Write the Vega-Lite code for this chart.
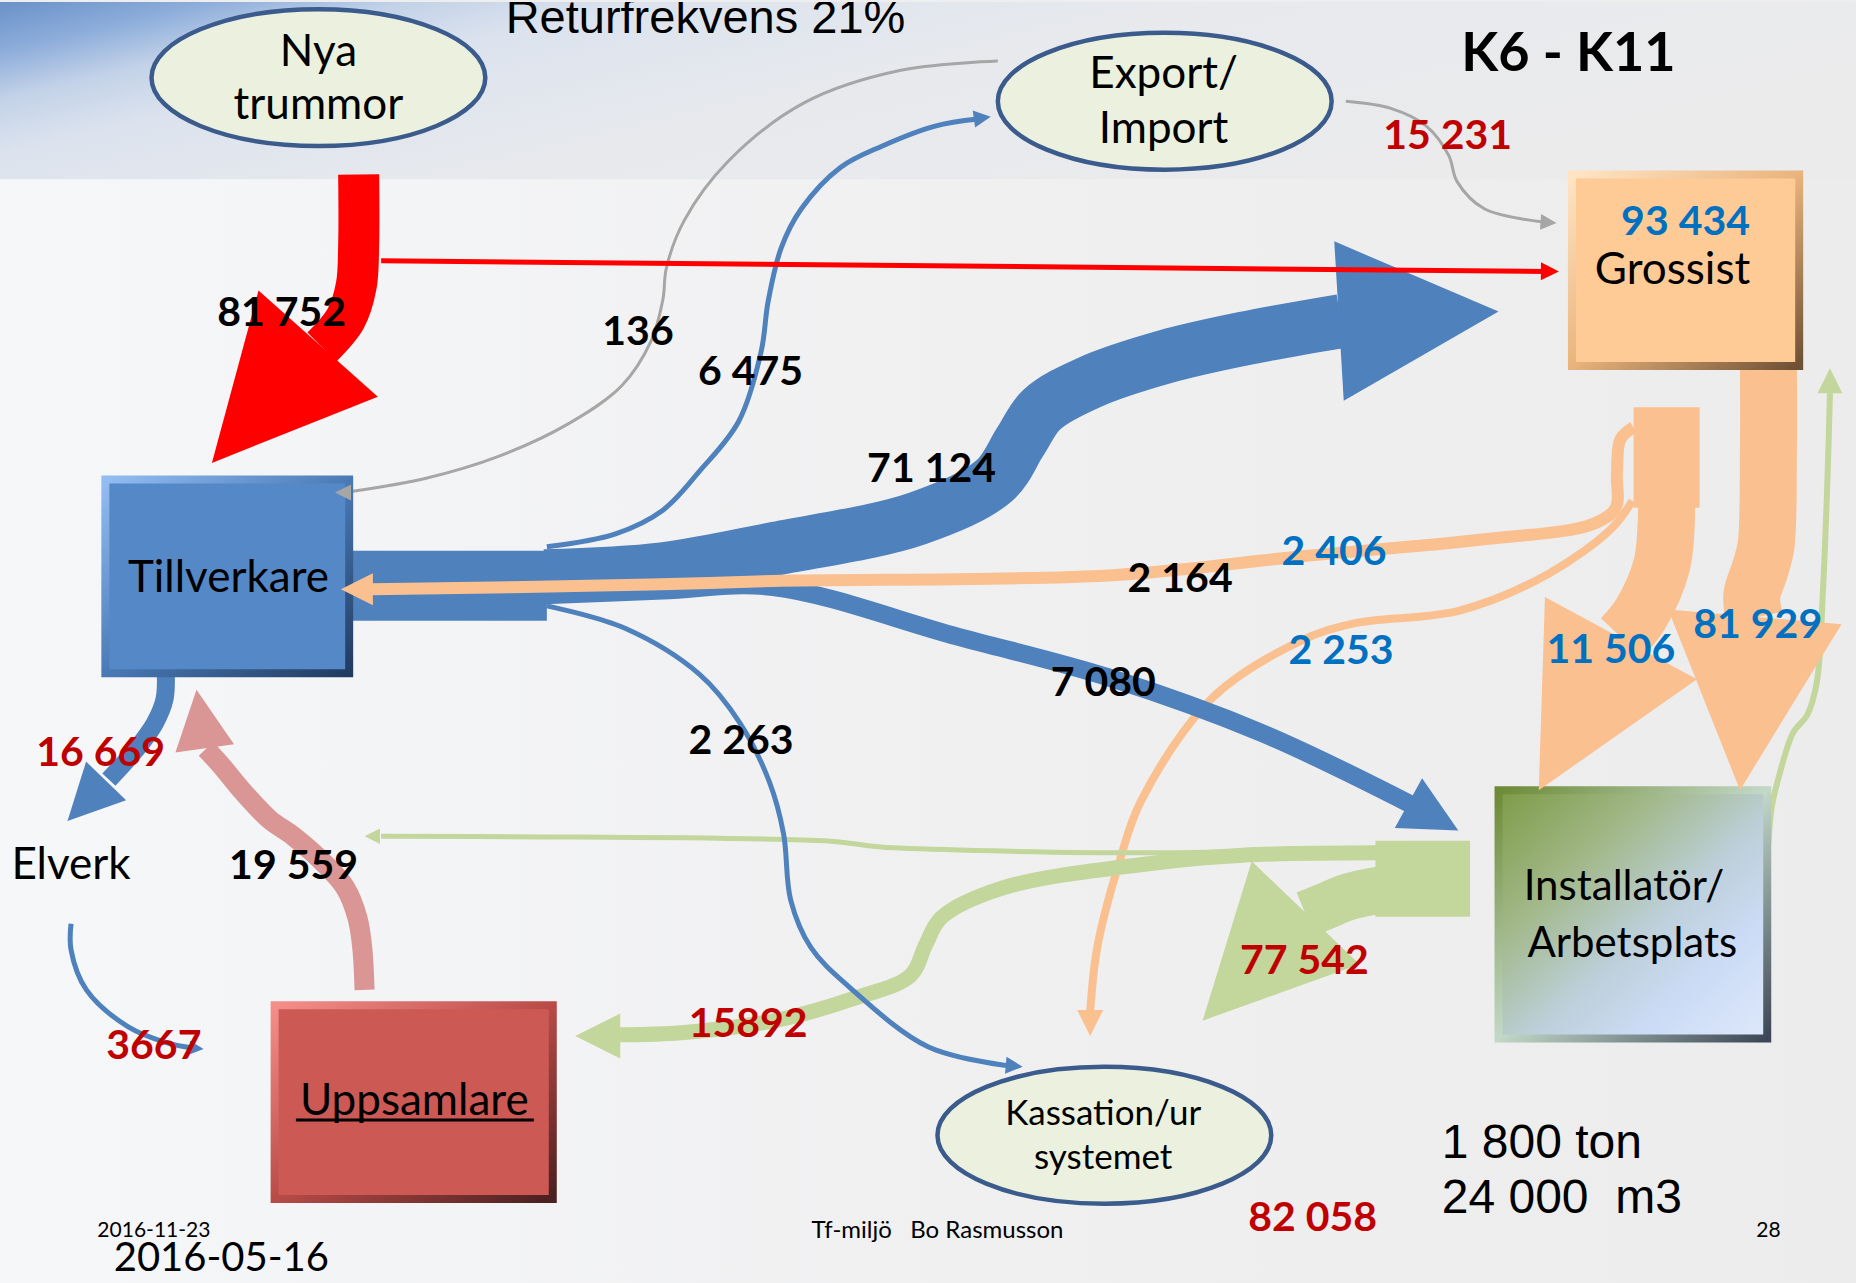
{
  "$schema": "https://vega.github.io/schema/vega-lite/v6.json",
  "width": 1856,
  "height": 1283,
  "autosize": {"type": "fit", "contains": "padding"},
  "padding": 0,
  "background": "#eeeeee",
  "config": {"view": {"stroke": null}},
  "datasets": {
    "bg": [
      {"part": "top", "x": 0, "x2": 1568, "y": 0, "y2": 150},
      {"part": "low", "x": 0, "x2": 1568, "y": 150, "y2": 1084}
    ],
    "boxes": [
      {"node": "Tillverkare", "x": 89, "x2": 295, "y": 404, "y2": 568},
      {"node": "Grossist", "x": 1328, "x2": 1520, "y": 146, "y2": 308},
      {"node": "Installatör", "x": 1266, "x2": 1493, "y": 667, "y2": 877},
      {"node": "Uppsamlare", "x": 232, "x2": 467, "y": 849, "y2": 1013}
    ],
    "ellipses": [
      {"node": "Nya trummor", "x": 269, "y": 64},
      {"node": "Export/Import", "x": 984, "y": 84},
      {"node": "Kassation/ur systemet", "x": 933, "y": 959}
    ],
    "flows": [
      {"flow": "gray_136", "from": "Export/Import", "seq": 0, "x": 843, "y": 50},
      {"flow": "gray_136", "from": "Export/Import", "seq": 1, "x": 760, "y": 58},
      {"flow": "gray_136", "from": "Export/Import", "seq": 2, "x": 680, "y": 85},
      {"flow": "gray_136", "from": "Export/Import", "seq": 3, "x": 615, "y": 135},
      {"flow": "gray_136", "from": "Export/Import", "seq": 4, "x": 578, "y": 185},
      {"flow": "gray_136", "from": "Export/Import", "seq": 5, "x": 563, "y": 225},
      {"flow": "gray_136", "from": "Export/Import", "seq": 6, "x": 560, "y": 252},
      {"flow": "gray_136", "from": "Export/Import", "seq": 7, "x": 550, "y": 287},
      {"flow": "gray_136", "from": "Export/Import", "seq": 8, "x": 525, "y": 325},
      {"flow": "gray_136", "from": "Export/Import", "seq": 9, "x": 480, "y": 357},
      {"flow": "gray_136", "from": "Export/Import", "seq": 10, "x": 420, "y": 385},
      {"flow": "gray_136", "from": "Export/Import", "seq": 11, "x": 360, "y": 403},
      {"flow": "gray_136", "from": "Export/Import", "seq": 12, "x": 298, "y": 414},
      {"flow": "gray_15231", "from": "Export/Import", "seq": 0, "x": 1137, "y": 84},
      {"flow": "gray_15231", "from": "Export/Import", "seq": 1, "x": 1175, "y": 90},
      {"flow": "gray_15231", "from": "Export/Import", "seq": 2, "x": 1205, "y": 105},
      {"flow": "gray_15231", "from": "Export/Import", "seq": 3, "x": 1224, "y": 130},
      {"flow": "gray_15231", "from": "Export/Import", "seq": 4, "x": 1231, "y": 152},
      {"flow": "gray_15231", "from": "Export/Import", "seq": 5, "x": 1254, "y": 175},
      {"flow": "gray_15231", "from": "Export/Import", "seq": 6, "x": 1302, "y": 186},
      {"flow": "blue_6475", "from": "Tillverkare", "seq": 0, "x": 462, "y": 461},
      {"flow": "blue_6475", "from": "Tillverkare", "seq": 1, "x": 520, "y": 450},
      {"flow": "blue_6475", "from": "Tillverkare", "seq": 2, "x": 560, "y": 430},
      {"flow": "blue_6475", "from": "Tillverkare", "seq": 3, "x": 591, "y": 397},
      {"flow": "blue_6475", "from": "Tillverkare", "seq": 4, "x": 624, "y": 355},
      {"flow": "blue_6475", "from": "Tillverkare", "seq": 5, "x": 643, "y": 296},
      {"flow": "blue_6475", "from": "Tillverkare", "seq": 6, "x": 649, "y": 253},
      {"flow": "blue_6475", "from": "Tillverkare", "seq": 7, "x": 660, "y": 208},
      {"flow": "blue_6475", "from": "Tillverkare", "seq": 8, "x": 677, "y": 175},
      {"flow": "blue_6475", "from": "Tillverkare", "seq": 9, "x": 710, "y": 140},
      {"flow": "blue_6475", "from": "Tillverkare", "seq": 10, "x": 745, "y": 122},
      {"flow": "blue_6475", "from": "Tillverkare", "seq": 11, "x": 790, "y": 105},
      {"flow": "blue_6475", "from": "Tillverkare", "seq": 12, "x": 826, "y": 99},
      {"flow": "blue_2263", "from": "Tillverkare", "seq": 0, "x": 462, "y": 511},
      {"flow": "blue_2263", "from": "Tillverkare", "seq": 1, "x": 528, "y": 530},
      {"flow": "blue_2263", "from": "Tillverkare", "seq": 2, "x": 591, "y": 569},
      {"flow": "blue_2263", "from": "Tillverkare", "seq": 3, "x": 625, "y": 610},
      {"flow": "blue_2263", "from": "Tillverkare", "seq": 4, "x": 650, "y": 660},
      {"flow": "blue_2263", "from": "Tillverkare", "seq": 5, "x": 662, "y": 704},
      {"flow": "blue_2263", "from": "Tillverkare", "seq": 6, "x": 668, "y": 760},
      {"flow": "blue_2263", "from": "Tillverkare", "seq": 7, "x": 685, "y": 800},
      {"flow": "blue_2263", "from": "Tillverkare", "seq": 8, "x": 718, "y": 834},
      {"flow": "blue_2263", "from": "Tillverkare", "seq": 9, "x": 784, "y": 884},
      {"flow": "blue_2263", "from": "Tillverkare", "seq": 10, "x": 850, "y": 900},
      {"flow": "orange_2253", "from": "Grossist", "seq": 0, "x": 1379, "y": 422},
      {"flow": "orange_2253", "from": "Grossist", "seq": 1, "x": 1362, "y": 445},
      {"flow": "orange_2253", "from": "Grossist", "seq": 2, "x": 1308, "y": 484},
      {"flow": "orange_2253", "from": "Grossist", "seq": 3, "x": 1233, "y": 515},
      {"flow": "orange_2253", "from": "Grossist", "seq": 4, "x": 1143, "y": 526},
      {"flow": "orange_2253", "from": "Grossist", "seq": 5, "x": 1098, "y": 541},
      {"flow": "orange_2253", "from": "Grossist", "seq": 6, "x": 1024, "y": 589},
      {"flow": "orange_2253", "from": "Grossist", "seq": 7, "x": 964, "y": 676},
      {"flow": "orange_2253", "from": "Grossist", "seq": 8, "x": 945, "y": 730},
      {"flow": "orange_2253", "from": "Grossist", "seq": 9, "x": 927, "y": 800},
      {"flow": "orange_2253", "from": "Grossist", "seq": 10, "x": 921, "y": 855},
      {"flow": "green_thin", "from": "Installatör", "seq": 0, "x": 1165, "y": 716},
      {"flow": "green_thin", "from": "Installatör", "seq": 1, "x": 972, "y": 720},
      {"flow": "green_thin", "from": "Installatör", "seq": 2, "x": 760, "y": 716},
      {"flow": "green_thin", "from": "Installatör", "seq": 3, "x": 734, "y": 714},
      {"flow": "green_thin", "from": "Installatör", "seq": 4, "x": 700, "y": 710},
      {"flow": "green_thin", "from": "Installatör", "seq": 5, "x": 322, "y": 706},
      {"flow": "green_up", "from": "Installatör", "seq": 0, "x": 1494, "y": 712},
      {"flow": "green_up", "from": "Installatör", "seq": 1, "x": 1497, "y": 680},
      {"flow": "green_up", "from": "Installatör", "seq": 2, "x": 1503, "y": 655},
      {"flow": "green_up", "from": "Installatör", "seq": 3, "x": 1515, "y": 618},
      {"flow": "green_up", "from": "Installatör", "seq": 4, "x": 1527, "y": 603},
      {"flow": "green_up", "from": "Installatör", "seq": 5, "x": 1535, "y": 575},
      {"flow": "green_up", "from": "Installatör", "seq": 6, "x": 1540, "y": 500},
      {"flow": "green_up", "from": "Installatör", "seq": 7, "x": 1544, "y": 400},
      {"flow": "green_up", "from": "Installatör", "seq": 8, "x": 1546, "y": 331},
      {"flow": "blue_3667", "from": "Elverk", "seq": 0, "x": 60, "y": 780},
      {"flow": "blue_3667", "from": "Elverk", "seq": 1, "x": 60, "y": 802},
      {"flow": "blue_3667", "from": "Elverk", "seq": 2, "x": 73, "y": 836},
      {"flow": "blue_3667", "from": "Elverk", "seq": 3, "x": 108, "y": 867},
      {"flow": "blue_3667", "from": "Elverk", "seq": 4, "x": 142, "y": 881},
      {"flow": "blue_3667", "from": "Elverk", "seq": 5, "x": 162, "y": 885},
      {"flow": "blue_bundle", "from": "Tillverkare", "seq": 0, "x": 295, "y": 494},
      {"flow": "blue_bundle", "from": "Tillverkare", "seq": 1, "x": 462, "y": 494},
      {"flow": "blue_71124", "from": "Tillverkare", "seq": 0, "x": 460, "y": 486},
      {"flow": "blue_71124", "from": "Tillverkare", "seq": 1, "x": 560, "y": 480},
      {"flow": "blue_71124", "from": "Tillverkare", "seq": 2, "x": 653, "y": 463},
      {"flow": "blue_71124", "from": "Tillverkare", "seq": 3, "x": 775, "y": 437},
      {"flow": "blue_71124", "from": "Tillverkare", "seq": 4, "x": 840, "y": 405},
      {"flow": "blue_71124", "from": "Tillverkare", "seq": 5, "x": 862, "y": 372},
      {"flow": "blue_71124", "from": "Tillverkare", "seq": 6, "x": 880, "y": 345},
      {"flow": "blue_71124", "from": "Tillverkare", "seq": 7, "x": 920, "y": 322},
      {"flow": "blue_71124", "from": "Tillverkare", "seq": 8, "x": 985, "y": 300},
      {"flow": "blue_71124", "from": "Tillverkare", "seq": 9, "x": 1050, "y": 285},
      {"flow": "blue_71124", "from": "Tillverkare", "seq": 10, "x": 1133, "y": 270},
      {"flow": "blue_7080", "from": "Tillverkare", "seq": 0, "x": 460, "y": 502},
      {"flow": "blue_7080", "from": "Tillverkare", "seq": 1, "x": 560, "y": 498},
      {"flow": "blue_7080", "from": "Tillverkare", "seq": 2, "x": 653, "y": 495},
      {"flow": "blue_7080", "from": "Tillverkare", "seq": 3, "x": 809, "y": 537},
      {"flow": "blue_7080", "from": "Tillverkare", "seq": 4, "x": 938, "y": 572},
      {"flow": "blue_7080", "from": "Tillverkare", "seq": 5, "x": 1067, "y": 619},
      {"flow": "blue_7080", "from": "Tillverkare", "seq": 6, "x": 1192, "y": 679},
      {"flow": "red_big", "from": "Nya trummor", "seq": 0, "x": 303, "y": 146},
      {"flow": "red_big", "from": "Nya trummor", "seq": 1, "x": 303, "y": 205},
      {"flow": "red_big", "from": "Nya trummor", "seq": 2, "x": 301, "y": 240},
      {"flow": "red_big", "from": "Nya trummor", "seq": 3, "x": 292, "y": 268},
      {"flow": "red_big", "from": "Nya trummor", "seq": 4, "x": 272, "y": 292},
      {"flow": "pink_19559", "from": "Uppsamlare", "seq": 0, "x": 308, "y": 836},
      {"flow": "pink_19559", "from": "Uppsamlare", "seq": 1, "x": 306, "y": 800},
      {"flow": "pink_19559", "from": "Uppsamlare", "seq": 2, "x": 302, "y": 775},
      {"flow": "pink_19559", "from": "Uppsamlare", "seq": 3, "x": 292, "y": 750},
      {"flow": "pink_19559", "from": "Uppsamlare", "seq": 4, "x": 275, "y": 730},
      {"flow": "pink_19559", "from": "Uppsamlare", "seq": 5, "x": 248, "y": 706},
      {"flow": "pink_19559", "from": "Uppsamlare", "seq": 6, "x": 228, "y": 692},
      {"flow": "pink_19559", "from": "Uppsamlare", "seq": 7, "x": 205, "y": 668},
      {"flow": "pink_19559", "from": "Uppsamlare", "seq": 8, "x": 186, "y": 645},
      {"flow": "pink_19559", "from": "Uppsamlare", "seq": 9, "x": 174, "y": 632},
      {"flow": "blue_16669", "from": "Tillverkare", "seq": 0, "x": 140, "y": 566},
      {"flow": "blue_16669", "from": "Tillverkare", "seq": 1, "x": 139, "y": 590},
      {"flow": "blue_16669", "from": "Tillverkare", "seq": 2, "x": 131, "y": 610},
      {"flow": "blue_16669", "from": "Tillverkare", "seq": 3, "x": 117, "y": 630},
      {"flow": "blue_16669", "from": "Tillverkare", "seq": 4, "x": 92, "y": 658},
      {"flow": "orange_box", "from": "Grossist", "seq": 0, "x": 1408, "y": 343},
      {"flow": "orange_box", "from": "Grossist", "seq": 1, "x": 1408, "y": 428},
      {"flow": "orange_11506", "from": "Grossist", "seq": 0, "x": 1408, "y": 426},
      {"flow": "orange_11506", "from": "Grossist", "seq": 1, "x": 1404, "y": 476},
      {"flow": "orange_11506", "from": "Grossist", "seq": 2, "x": 1386, "y": 518},
      {"flow": "orange_11506", "from": "Grossist", "seq": 3, "x": 1370, "y": 538},
      {"flow": "orange_81929", "from": "Grossist", "seq": 0, "x": 1494, "y": 308},
      {"flow": "orange_81929", "from": "Grossist", "seq": 1, "x": 1494, "y": 380},
      {"flow": "orange_81929", "from": "Grossist", "seq": 2, "x": 1492, "y": 460},
      {"flow": "orange_81929", "from": "Grossist", "seq": 3, "x": 1487, "y": 480},
      {"flow": "orange_81929", "from": "Grossist", "seq": 4, "x": 1480, "y": 502},
      {"flow": "orange_81929", "from": "Grossist", "seq": 5, "x": 1482, "y": 521},
      {"flow": "green_box", "from": "Installatör", "seq": 0, "x": 1162, "y": 742},
      {"flow": "green_box", "from": "Installatör", "seq": 1, "x": 1242, "y": 742},
      {"flow": "green_77542", "from": "Installatör", "seq": 0, "x": 1175, "y": 750},
      {"flow": "green_77542", "from": "Installatör", "seq": 1, "x": 1140, "y": 757},
      {"flow": "green_77542", "from": "Installatör", "seq": 2, "x": 1120, "y": 765},
      {"flow": "green_77542", "from": "Installatör", "seq": 3, "x": 1103, "y": 772},
      {"flow": "green_15892", "from": "Installatör", "seq": 0, "x": 1165, "y": 720},
      {"flow": "green_15892", "from": "Installatör", "seq": 1, "x": 1050, "y": 722},
      {"flow": "green_15892", "from": "Installatör", "seq": 2, "x": 972, "y": 729},
      {"flow": "green_15892", "from": "Installatör", "seq": 3, "x": 846, "y": 750},
      {"flow": "green_15892", "from": "Installatör", "seq": 4, "x": 795, "y": 775},
      {"flow": "green_15892", "from": "Installatör", "seq": 5, "x": 782, "y": 798},
      {"flow": "green_15892", "from": "Installatör", "seq": 6, "x": 769, "y": 824},
      {"flow": "green_15892", "from": "Installatör", "seq": 7, "x": 722, "y": 843},
      {"flow": "green_15892", "from": "Installatör", "seq": 8, "x": 659, "y": 861},
      {"flow": "green_15892", "from": "Installatör", "seq": 9, "x": 578, "y": 872},
      {"flow": "green_15892", "from": "Installatör", "seq": 10, "x": 522, "y": 874},
      {"flow": "orange_2164", "from": "Grossist", "seq": 0, "x": 1380, "y": 360},
      {"flow": "orange_2164", "from": "Grossist", "seq": 1, "x": 1369, "y": 370},
      {"flow": "orange_2164", "from": "Grossist", "seq": 2, "x": 1366, "y": 400},
      {"flow": "orange_2164", "from": "Grossist", "seq": 3, "x": 1365, "y": 428},
      {"flow": "orange_2164", "from": "Grossist", "seq": 4, "x": 1345, "y": 442},
      {"flow": "orange_2164", "from": "Grossist", "seq": 5, "x": 1250, "y": 455},
      {"flow": "orange_2164", "from": "Grossist", "seq": 6, "x": 1100, "y": 469},
      {"flow": "orange_2164", "from": "Grossist", "seq": 7, "x": 940, "y": 485},
      {"flow": "orange_2164", "from": "Grossist", "seq": 8, "x": 653, "y": 490},
      {"flow": "orange_2164", "from": "Grossist", "seq": 9, "x": 550, "y": 493},
      {"flow": "orange_2164", "from": "Grossist", "seq": 10, "x": 314, "y": 497},
      {"flow": "red_thin", "from": "Nya trummor", "seq": 0, "x": 322, "y": 219},
      {"flow": "red_thin", "from": "Nya trummor", "seq": 1, "x": 1305, "y": 228}
    ],
    "heads": [
      {"flow": "red_big", "from": "Nya trummor", "x": 179, "y": 390, "dir": 131.7},
      {"flow": "red_thin", "from": "Nya trummor", "x": 1317, "y": 228, "dir": 0.5},
      {"flow": "gray_136", "from": "Export/Import", "x": 283, "y": 415, "dir": 180},
      {"flow": "gray_15231", "from": "Export/Import", "x": 1315, "y": 187, "dir": 4},
      {"flow": "blue_6475", "from": "Tillverkare", "x": 837, "y": 97, "dir": -8},
      {"flow": "blue_71124", "from": "Tillverkare", "x": 1266, "y": 262, "dir": -3.4},
      {"flow": "blue_7080", "from": "Tillverkare", "x": 1232, "y": 701, "dir": 28.7},
      {"flow": "blue_2263", "from": "Tillverkare", "x": 864, "y": 901, "dir": 5},
      {"flow": "orange_11506", "from": "Grossist", "x": 1300, "y": 667, "dir": 118.4},
      {"flow": "orange_81929", "from": "Grossist", "x": 1470, "y": 667, "dir": 94.9},
      {"flow": "orange_2164", "from": "Grossist", "x": 288, "y": 497, "dir": 180},
      {"flow": "orange_2253", "from": "Grossist", "x": 921, "y": 875, "dir": 90},
      {"flow": "green_up", "from": "Installatör", "x": 1546, "y": 310, "dir": -90},
      {"flow": "green_77542", "from": "Installatör", "x": 1016, "y": 862, "dir": 133.7},
      {"flow": "green_15892", "from": "Installatör", "x": 486, "y": 875, "dir": 180},
      {"flow": "green_thin", "from": "Installatör", "x": 308, "y": 706, "dir": 180},
      {"flow": "pink_19559", "from": "Uppsamlare", "x": 166, "y": 582, "dir": -98},
      {"flow": "blue_16669", "from": "Tillverkare", "x": 57, "y": 693, "dir": 134},
      {"flow": "blue_3667", "from": "Elverk", "x": 172, "y": 886, "dir": 5}
    ],
    "labels": [
      {"text": "Nya", "x": 269, "y": 43, "role": "node"},
      {"text": "trummor", "x": 269, "y": 88, "role": "node"},
      {"text": "Export/", "x": 983, "y": 62, "role": "node"},
      {"text": "Import", "x": 983, "y": 108, "role": "node"},
      {"text": "Kassation/ur", "x": 932, "y": 941, "role": "node_s"},
      {"text": "systemet", "x": 932, "y": 978, "role": "node_s"},
      {"text": "Tillverkare", "x": 193, "y": 488, "role": "node"},
      {"text": "Grossist", "x": 1413, "y": 228, "role": "node"},
      {"text": "Installatör/", "x": 1372, "y": 749, "role": "node_m"},
      {"text": "Arbetsplats", "x": 1379, "y": 797, "role": "node_m"},
      {"text": "Uppsamlare", "x": 350, "y": 931, "role": "node"},
      {"text": "Elverk", "x": 60, "y": 731, "role": "node"},
      {"text": "2016-11-23", "x": 130, "y": 1040, "role": "foot_s"},
      {"text": "2016-05-16", "x": 187, "y": 1064, "role": "foot_l"},
      {"text": "Tf-miljö\u00a0\u00a0\u00a0Bo Rasmusson", "x": 792, "y": 1040, "role": "foot_m"},
      {"text": "28", "x": 1494, "y": 1040, "role": "foot_s"}
    ],
    "values": [
      {"text": "81 752", "x": 238, "y": 264, "kategori": "a"},
      {"text": "136", "x": 539, "y": 280, "kategori": "a"},
      {"text": "6 475", "x": 634, "y": 314, "kategori": "a"},
      {"text": "71 124", "x": 787, "y": 396, "kategori": "a"},
      {"text": "2 164", "x": 997, "y": 489, "kategori": "a"},
      {"text": "2 406", "x": 1127, "y": 466, "kategori": "c"},
      {"text": "2 253", "x": 1133, "y": 550, "kategori": "c"},
      {"text": "7 080", "x": 932, "y": 577, "kategori": "a"},
      {"text": "2 263", "x": 626, "y": 626, "kategori": "a"},
      {"text": "11 506", "x": 1361, "y": 549, "kategori": "c"},
      {"text": "81 929", "x": 1485, "y": 528, "kategori": "c"},
      {"text": "93 434", "x": 1424, "y": 187, "kategori": "c"},
      {"text": "15 231", "x": 1223, "y": 114, "kategori": "b"},
      {"text": "16 669", "x": 85, "y": 636, "kategori": "b"},
      {"text": "19 559", "x": 248, "y": 732, "kategori": "a"},
      {"text": "3667", "x": 130, "y": 884, "kategori": "b"},
      {"text": "15892", "x": 632, "y": 866, "kategori": "b"},
      {"text": "77 542", "x": 1102, "y": 812, "kategori": "b"},
      {"text": "82 058", "x": 1109, "y": 1030, "kategori": "b"}
    ]
  },
  "layer": [
    {
      "data": {"name": "bg"},
      "transform": [{"filter": "datum.part === 'top'"}],
      "mark": {"type": "rect", "fill": {"gradient": "linear", "x1": 0, "y1": 0, "x2": 1, "y2": 0.4, "stops": [
        {"offset": 0, "color": "#6a91c8"},
        {"offset": 0.1, "color": "#8eaedb"},
        {"offset": 0.19, "color": "#c3d2e8"},
        {"offset": 0.3, "color": "#dce3ee"},
        {"offset": 0.55, "color": "#e7e9ed"},
        {"offset": 1, "color": "#ebebec"}]}},
      "encoding": {
        "x": {"field": "x", "type": "quantitative", "scale": {"domain": [0, 1568], "nice": false, "zero": false}, "axis": null},
        "x2": {"field": "x2"},
        "y": {"field": "y", "type": "quantitative", "scale": {"domain": [0, 1084], "nice": false, "zero": false, "reverse": true}, "axis": null},
        "y2": {"field": "y2"}
      }
    },
    {
      "data": {"name": "bg"},
      "transform": [{"filter": "datum.part === 'low'"}],
      "mark": {"type": "rect", "fill": {"gradient": "linear", "x1": 0, "y1": 0, "x2": 1, "y2": 0, "stops": [
        {"offset": 0, "color": "#f6f7f9"},
        {"offset": 0.5, "color": "#f0f0f1"},
        {"offset": 1, "color": "#ececec"}]}},
      "encoding": {
        "x": {"field": "x", "type": "quantitative", "scale": {"domain": [0, 1568], "nice": false, "zero": false}, "axis": null},
        "x2": {"field": "x2"},
        "y": {"field": "y", "type": "quantitative", "scale": {"domain": [0, 1084], "nice": false, "zero": false, "reverse": true}, "axis": null},
        "y2": {"field": "y2"}
      }
    },
    {
      "data": {"name": "flows"},
      "transform": [{"filter": {"field": "flow", "oneOf": ["gray_136", "gray_15231", "blue_6475", "orange_2253", "green_thin", "green_up", "blue_3667"]}}],
      "mark": {"type": "line", "interpolate": "catmull-rom", "strokeCap": "butt", "strokeJoin": "round"},
      "encoding": {
        "x": {"field": "x", "type": "quantitative", "scale": {"domain": [0, 1568], "nice": false, "zero": false}, "axis": null},
        "y": {"field": "y", "type": "quantitative", "scale": {"domain": [0, 1084], "nice": false, "zero": false, "reverse": true}, "axis": null},
        "detail": {"field": "flow"},
        "order": {"field": "seq", "type": "quantitative"},
        "color": {"field": "from", "type": "nominal", "legend": null, "scale": {"domain": ["Nya trummor", "Tillverkare", "Grossist", "Installatör", "Uppsamlare", "Export/Import", "Elverk"], "range": ["#ff0000", "#4f81bd", "#fac090", "#c3d69b", "#d99694", "#a6a6a6", "#4f81bd"]}},
        "strokeWidth": {"field": "flow", "type": "nominal", "legend": null, "scale": {"type": "ordinal",
          "domain": ["gray_136", "gray_15231", "blue_6475", "blue_2263", "orange_2253", "green_thin", "green_up", "blue_3667", "blue_bundle", "blue_71124", "blue_7080", "red_big", "pink_19559", "blue_16669", "orange_box", "orange_11506", "orange_81929", "green_box", "green_77542", "green_15892", "orange_2164", "red_thin"],
          "range": [3, 3, 5, 5, 8, 5, 6, 5, 70, 54, 18, 41, 20, 18, 66, 57, 57, 76, 47, 15, 12, 5]}}
      }
    },
    {
      "data": {"name": "flows"},
      "transform": [{"filter": {"field": "flow", "oneOf": ["blue_bundle", "blue_71124", "blue_7080", "red_big", "pink_19559", "blue_16669", "orange_box", "orange_11506", "orange_81929", "green_box", "green_77542", "green_15892"]}}],
      "mark": {"type": "line", "interpolate": "catmull-rom", "strokeCap": "butt", "strokeJoin": "round"},
      "encoding": {
        "x": {"field": "x", "type": "quantitative", "scale": {"domain": [0, 1568], "nice": false, "zero": false}, "axis": null},
        "y": {"field": "y", "type": "quantitative", "scale": {"domain": [0, 1084], "nice": false, "zero": false, "reverse": true}, "axis": null},
        "detail": {"field": "flow"},
        "order": {"field": "seq", "type": "quantitative"},
        "color": {"field": "from", "type": "nominal", "legend": null, "scale": {"domain": ["Nya trummor", "Tillverkare", "Grossist", "Installatör", "Uppsamlare", "Export/Import", "Elverk"], "range": ["#ff0000", "#4f81bd", "#fac090", "#c3d69b", "#d99694", "#a6a6a6", "#4f81bd"]}},
        "strokeWidth": {"field": "flow", "type": "nominal", "legend": null, "scale": {"type": "ordinal",
          "domain": ["gray_136", "gray_15231", "blue_6475", "blue_2263", "orange_2253", "green_thin", "green_up", "blue_3667", "blue_bundle", "blue_71124", "blue_7080", "red_big", "pink_19559", "blue_16669", "orange_box", "orange_11506", "orange_81929", "green_box", "green_77542", "green_15892", "orange_2164", "red_thin"],
          "range": [3, 3, 5, 5, 8, 5, 6, 5, 70, 54, 18, 41, 20, 18, 66, 57, 57, 76, 47, 15, 12, 5]}}
      }
    },
    {
      "data": {"name": "ellipses"},
      "mark": {"type": "point", "shape": "M-1,0C-1,-0.226,-0.552,-0.41,0,-0.41C0.552,-0.41,1,-0.226,1,0C1,0.226,0.552,0.41,0,0.41C-0.552,0.41,-1,0.226,-1,0Z", "filled": true, "fill": "#ebf1de", "stroke": "#3b5b8c", "strokeWidth": 4.5, "size": 111420, "opacity": 1},
      "encoding": {
        "x": {"field": "x", "type": "quantitative", "scale": {"domain": [0, 1568], "nice": false, "zero": false}, "axis": null},
        "y": {"field": "y", "type": "quantitative", "scale": {"domain": [0, 1084], "nice": false, "zero": false, "reverse": true}, "axis": null}
      }
    },
    {
      "data": {"name": "boxes"},
      "transform": [{"filter": "datum.node === 'Tillverkare'"}],
      "mark": {"type": "rect", "fill": "#5588c7", "strokeWidth": 8,
        "stroke": {"gradient": "linear", "x1": 0, "y1": 0, "x2": 1, "y2": 1, "stops": [{"offset": 0, "color": "#93bdf2"}, {"offset": 0.5, "color": "#4a7ab6"}, {"offset": 1, "color": "#213b60"}]}},
      "encoding": {
        "x": {"field": "x", "type": "quantitative", "scale": {"domain": [0, 1568], "nice": false, "zero": false}, "axis": null},
        "x2": {"field": "x2"},
        "y": {"field": "y", "type": "quantitative", "scale": {"domain": [0, 1084], "nice": false, "zero": false, "reverse": true}, "axis": null},
        "y2": {"field": "y2"}
      }
    },
    {
      "data": {"name": "boxes"},
      "transform": [{"filter": "datum.node === 'Grossist'"}],
      "mark": {"type": "rect", "fill": "#fecb97", "strokeWidth": 8,
        "stroke": {"gradient": "linear", "x1": 0, "y1": 0, "x2": 1, "y2": 1, "stops": [{"offset": 0, "color": "#ffe4c4"}, {"offset": 0.5, "color": "#e9b47c"}, {"offset": 1, "color": "#6e5034"}]}},
      "encoding": {
        "x": {"field": "x", "type": "quantitative", "scale": {"domain": [0, 1568], "nice": false, "zero": false}, "axis": null},
        "x2": {"field": "x2"},
        "y": {"field": "y", "type": "quantitative", "scale": {"domain": [0, 1084], "nice": false, "zero": false, "reverse": true}, "axis": null},
        "y2": {"field": "y2"}
      }
    },
    {
      "data": {"name": "boxes"},
      "transform": [{"filter": "datum.node === 'Installatör'"}],
      "mark": {"type": "rect", "strokeWidth": 8,
        "fill": {"gradient": "linear", "x1": 0, "y1": 0, "x2": 1, "y2": 1, "stops": [{"offset": 0, "color": "#7d9b46"}, {"offset": 0.3, "color": "#a2b889"}, {"offset": 0.55, "color": "#bccfd8"}, {"offset": 0.75, "color": "#cbdbf5"}, {"offset": 1, "color": "#dee8fb"}]},
        "stroke": {"gradient": "linear", "x1": 0, "y1": 0, "x2": 1, "y2": 1, "stops": [{"offset": 0, "color": "#6d8a35"}, {"offset": 0.5, "color": "#c3d8c8"}, {"offset": 1, "color": "#3c4656"}]}},
      "encoding": {
        "x": {"field": "x", "type": "quantitative", "scale": {"domain": [0, 1568], "nice": false, "zero": false}, "axis": null},
        "x2": {"field": "x2"},
        "y": {"field": "y", "type": "quantitative", "scale": {"domain": [0, 1084], "nice": false, "zero": false, "reverse": true}, "axis": null},
        "y2": {"field": "y2"}
      }
    },
    {
      "data": {"name": "boxes"},
      "transform": [{"filter": "datum.node === 'Uppsamlare'"}],
      "mark": {"type": "rect", "fill": "#cd5955", "strokeWidth": 8,
        "stroke": {"gradient": "linear", "x1": 0, "y1": 0, "x2": 1, "y2": 1, "stops": [{"offset": 0, "color": "#f58e8a"}, {"offset": 0.5, "color": "#b94b47"}, {"offset": 1, "color": "#4a2020"}]}},
      "encoding": {
        "x": {"field": "x", "type": "quantitative", "scale": {"domain": [0, 1568], "nice": false, "zero": false}, "axis": null},
        "x2": {"field": "x2"},
        "y": {"field": "y", "type": "quantitative", "scale": {"domain": [0, 1084], "nice": false, "zero": false, "reverse": true}, "axis": null},
        "y2": {"field": "y2"}
      }
    },
    {
      "data": {"name": "heads"},
      "mark": {"type": "point", "shape": "M0,0L-2,-1L-2,1Z", "filled": true, "opacity": 1, "strokeWidth": 0},
      "encoding": {
        "x": {"field": "x", "type": "quantitative", "scale": {"domain": [0, 1568], "nice": false, "zero": false}, "axis": null},
        "y": {"field": "y", "type": "quantitative", "scale": {"domain": [0, 1084], "nice": false, "zero": false, "reverse": true}, "axis": null},
        "angle": {"field": "dir", "type": "quantitative", "scale": null},
        "color": {"field": "from", "type": "nominal", "legend": null, "scale": {"domain": ["Nya trummor", "Tillverkare", "Grossist", "Installatör", "Uppsamlare", "Export/Import", "Elverk"], "range": ["#ff0000", "#4f81bd", "#fac090", "#c3d69b", "#d99694", "#a6a6a6", "#4f81bd"]}},
        "size": {"field": "flow", "type": "nominal", "legend": null, "scale": {"type": "ordinal",
          "domain": ["red_big", "red_thin", "gray_136", "gray_15231", "blue_6475", "blue_71124", "blue_7080", "blue_2263", "orange_11506", "orange_81929", "orange_2164", "orange_2253", "green_up", "green_77542", "green_15892", "green_thin", "pink_19559", "blue_16669", "blue_3667"],
          "range": [25540, 324, 256, 256, 289, 25540, 3228, 289, 29860, 30276, 1021, 678, 618, 22245, 2023, 237, 3503, 3095, 202]}}
      }
    },
    {
      "data": {"name": "flows"},
      "transform": [{"filter": {"field": "flow", "oneOf": ["blue_2263", "orange_2164", "red_thin"]}}],
      "mark": {"type": "line", "interpolate": "catmull-rom", "strokeCap": "butt", "strokeJoin": "round"},
      "encoding": {
        "x": {"field": "x", "type": "quantitative", "scale": {"domain": [0, 1568], "nice": false, "zero": false}, "axis": null},
        "y": {"field": "y", "type": "quantitative", "scale": {"domain": [0, 1084], "nice": false, "zero": false, "reverse": true}, "axis": null},
        "detail": {"field": "flow"},
        "order": {"field": "seq", "type": "quantitative"},
        "color": {"field": "from", "type": "nominal", "legend": null, "scale": {"domain": ["Nya trummor", "Tillverkare", "Grossist", "Installatör", "Uppsamlare", "Export/Import", "Elverk"], "range": ["#ff0000", "#4f81bd", "#fac090", "#c3d69b", "#d99694", "#a6a6a6", "#4f81bd"]}},
        "strokeWidth": {"field": "flow", "type": "nominal", "legend": null, "scale": {"type": "ordinal",
          "domain": ["gray_136", "gray_15231", "blue_6475", "blue_2263", "orange_2253", "green_thin", "green_up", "blue_3667", "blue_bundle", "blue_71124", "blue_7080", "red_big", "pink_19559", "blue_16669", "orange_box", "orange_11506", "orange_81929", "green_box", "green_77542", "green_15892", "orange_2164", "red_thin"],
          "range": [3, 3, 5, 5, 8, 5, 6, 5, 70, 54, 18, 41, 20, 18, 66, 57, 57, 76, 47, 15, 12, 5]}}
      }
    },
    {
      "data": {"values": [{"word": "Uppsamlare", "x": 250, "x2": 451, "y": 946}]},
      "mark": {"type": "rule", "color": "#000000", "strokeWidth": 3},
      "encoding": {
        "x": {"field": "x", "type": "quantitative", "scale": {"domain": [0, 1568], "nice": false, "zero": false}, "axis": null},
        "x2": {"field": "x2"},
        "y": {"field": "y", "type": "quantitative", "scale": {"domain": [0, 1084], "nice": false, "zero": false, "reverse": true}, "axis": null}
      }
    },
    {
      "data": {"name": "labels"},
      "mark": {"type": "text", "font": "Lato", "align": "center", "baseline": "middle", "color": "#000000"},
      "encoding": {
        "x": {"field": "x", "type": "quantitative", "scale": {"domain": [0, 1568], "nice": false, "zero": false}, "axis": null},
        "y": {"field": "y", "type": "quantitative", "scale": {"domain": [0, 1084], "nice": false, "zero": false, "reverse": true}, "axis": null},
        "text": {"field": "text"},
        "size": {"field": "role", "type": "nominal", "legend": null, "scale": {"type": "ordinal", "domain": ["node", "node_m", "node_s", "foot_s", "foot_m", "foot_l"], "range": [44, 42, 35, 21, 24, 40]}}
      }
    },
    {
      "data": {"name": "values"},
      "mark": {"type": "text", "font": "Lato", "fontWeight": "bold", "fontSize": 41, "align": "center", "baseline": "middle"},
      "encoding": {
        "x": {"field": "x", "type": "quantitative", "scale": {"domain": [0, 1568], "nice": false, "zero": false}, "axis": null},
        "y": {"field": "y", "type": "quantitative", "scale": {"domain": [0, 1084], "nice": false, "zero": false, "reverse": true}, "axis": null},
        "text": {"field": "text"},
        "color": {"field": "kategori", "type": "nominal", "legend": null, "scale": {"domain": ["a", "b", "c"], "range": ["#000000", "#c00000", "#0070c0"]}}
      }
    },
    {
      "data": {"values": [{"text": "K6 - K11", "x": 1325, "y": 45}]},
      "mark": {"type": "text", "font": "Lato", "fontWeight": "bold", "fontSize": 54, "align": "center", "baseline": "middle", "color": "#000000"},
      "encoding": {
        "x": {"field": "x", "type": "quantitative", "scale": {"domain": [0, 1568], "nice": false, "zero": false}, "axis": null},
        "y": {"field": "y", "type": "quantitative", "scale": {"domain": [0, 1084], "nice": false, "zero": false, "reverse": true}, "axis": null},
        "text": {"field": "text"}
      }
    },
    {
      "data": {"values": [{"text": "Returfrekvens 21%", "x": 596, "y": 26}]},
      "mark": {"type": "text", "font": "Liberation Sans", "fontSize": 47, "align": "center", "baseline": "alphabetic", "color": "#000000", "clip": true},
      "encoding": {
        "x": {"field": "x", "type": "quantitative", "scale": {"domain": [0, 1568], "nice": false, "zero": false}, "axis": null},
        "y": {"field": "y", "type": "quantitative", "scale": {"domain": [0, 1084], "nice": false, "zero": false, "reverse": true}, "axis": null},
        "text": {"field": "text"}
      }
    },
    {
      "data": {"values": [{"text": "1 800 ton", "x": 1218, "y": 966}, {"text": "24 000\u00a0\u00a0m3", "x": 1218, "y": 1013}]},
      "mark": {"type": "text", "font": "Liberation Sans", "fontSize": 48, "align": "left", "baseline": "middle", "color": "#000000"},
      "encoding": {
        "x": {"field": "x", "type": "quantitative", "scale": {"domain": [0, 1568], "nice": false, "zero": false}, "axis": null},
        "y": {"field": "y", "type": "quantitative", "scale": {"domain": [0, 1084], "nice": false, "zero": false, "reverse": true}, "axis": null},
        "text": {"field": "text"}
      }
    }
  ],
  "resolve": {"scale": {"color": "independent", "size": "independent"}}
}
